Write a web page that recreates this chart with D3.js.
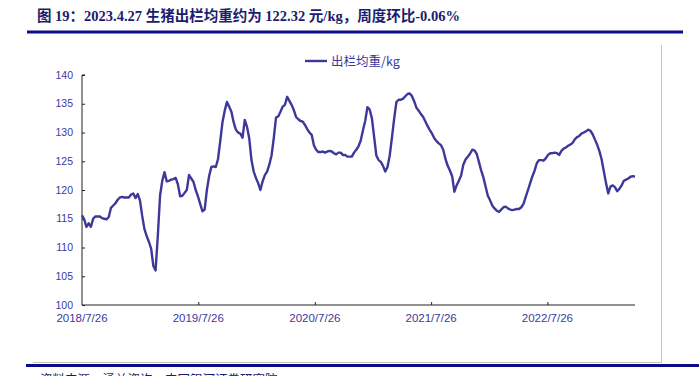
<!DOCTYPE html>
<html>
<head>
<meta charset="utf-8">
<script src="https://cdn.jsdelivr.net/npm/d3@7"></script>
<style>
  body { margin: 0; background: #fff; }
  svg { display: block; }
</style>
</head>
<body>
<div id="chart"></div>
<script>
// Data: weekly hog slaughter weight (kg)
const titleText = "图 19：2023.4.27 生猪出栏均重约为 122.32 元/kg，周度环比-0.06%";
const seriesName = "出栏均重/kg";
const sourceText = "资料来源：涌益咨询，中国银河证券研究院";

const dates = [
  // 2018
  "2018/7/26","2018/8/2","2018/8/9","2018/8/16","2018/8/23","2018/8/30","2018/9/6","2018/9/13","2018/9/20","2018/9/27",
  "2018/10/4","2018/10/11","2018/10/18","2018/10/25","2018/11/1","2018/11/8","2018/11/15","2018/11/22","2018/11/29",
  "2018/12/6","2018/12/13","2018/12/20","2018/12/27",
  // 2019
  "2019/1/3","2019/1/10","2019/1/17","2019/1/24","2019/1/31","2019/2/7","2019/2/14","2019/2/21","2019/2/28",
  "2019/3/7","2019/3/14","2019/3/21","2019/3/28","2019/4/4","2019/4/11","2019/4/18","2019/4/25",
  "2019/5/2","2019/5/9","2019/5/16","2019/5/23","2019/5/30","2019/6/6","2019/6/13","2019/6/20","2019/6/27",
  "2019/7/4","2019/7/11","2019/7/18","2019/7/25","2019/8/1","2019/8/8","2019/8/15","2019/8/22","2019/8/29",
  "2019/9/5","2019/9/12","2019/9/19","2019/9/26","2019/10/3","2019/10/10","2019/10/17","2019/10/24","2019/10/31",
  "2019/11/7","2019/11/14","2019/11/21","2019/11/28","2019/12/5","2019/12/12","2019/12/19","2019/12/26",
  // 2020
  "2020/1/2","2020/1/9","2020/1/16","2020/1/23","2020/1/30","2020/2/6","2020/2/13","2020/2/20","2020/2/27",
  "2020/3/5","2020/3/12","2020/3/19","2020/3/26","2020/4/2","2020/4/9","2020/4/16","2020/4/23","2020/4/30",
  "2020/5/7","2020/5/14","2020/5/21","2020/5/28","2020/6/4","2020/6/11","2020/6/18","2020/6/25",
  "2020/7/2","2020/7/9","2020/7/16","2020/7/23","2020/7/30","2020/8/6","2020/8/13","2020/8/20","2020/8/27",
  "2020/9/3","2020/9/10","2020/9/17","2020/9/24","2020/10/1","2020/10/8","2020/10/15","2020/10/22","2020/10/29",
  "2020/11/5","2020/11/12","2020/11/19","2020/11/26","2020/12/3","2020/12/10","2020/12/17","2020/12/24","2020/12/31",
  // 2021
  "2021/1/7","2021/1/14","2021/1/21","2021/1/28","2021/2/4","2021/2/11","2021/2/18","2021/2/25",
  "2021/3/4","2021/3/11","2021/3/18","2021/3/25","2021/4/1","2021/4/8","2021/4/15","2021/4/22","2021/4/29",
  "2021/5/6","2021/5/13","2021/5/20","2021/5/27","2021/6/3","2021/6/10","2021/6/17","2021/6/24",
  "2021/7/1","2021/7/8","2021/7/15","2021/7/22","2021/7/29","2021/8/5","2021/8/12","2021/8/19","2021/8/26",
  "2021/9/2","2021/9/9","2021/9/16","2021/9/23","2021/9/30","2021/10/7","2021/10/14","2021/10/21","2021/10/28",
  "2021/11/4","2021/11/11","2021/11/18","2021/11/25","2021/12/2","2021/12/9","2021/12/16","2021/12/23","2021/12/30",
  // 2022
  "2022/1/6","2022/1/13","2022/1/20","2022/1/27","2022/2/3","2022/2/10","2022/2/17","2022/2/24",
  "2022/3/3","2022/3/10","2022/3/17","2022/3/24","2022/3/31","2022/4/7","2022/4/14","2022/4/21","2022/4/28",
  "2022/5/5","2022/5/12","2022/5/19","2022/5/26","2022/6/2","2022/6/9","2022/6/16","2022/6/23","2022/6/30",
  "2022/7/7","2022/7/14","2022/7/21","2022/7/28","2022/8/4","2022/8/11","2022/8/18","2022/8/25",
  "2022/9/1","2022/9/8","2022/9/15","2022/9/22","2022/9/29","2022/10/6","2022/10/13","2022/10/20","2022/10/27",
  "2022/11/3","2022/11/10","2022/11/17","2022/11/24","2022/12/1","2022/12/8","2022/12/15","2022/12/22","2022/12/29",
  // 2023
  "2023/1/5","2023/1/12","2023/1/19","2023/1/26","2023/2/2","2023/2/9","2023/2/16","2023/2/23",
  "2023/3/2","2023/3/9","2023/3/16","2023/3/23","2023/3/30","2023/4/6","2023/4/13","2023/4/20","2023/4/27"
];

const weights = [
  // 2018
  115.6,114.9,113.6,114.2,113.6,115.0,115.4,115.4,115.4,115.1,115.0,114.9,115.3,116.9,117.3,117.7,118.3,118.7,118.8,
  118.7,118.7,118.7,119.2,
  // 2019
  119.4,118.6,119.3,118.2,115.5,113.2,112.0,111.0,109.8,106.8,106.0,112.0,119.0,121.6,123.1,121.5,121.6,
  121.8,121.9,122.1,121.0,118.9,119.0,119.5,120.0,122.6,122.0,121.4,120.0,118.9,117.6,116.3,116.6,120.0,122.4,
  124.0,124.1,124.0,125.4,128.5,131.8,133.8,135.3,134.5,133.6,131.8,130.5,130.0,129.8,129.1,132.2,131.0,
  // 2020
  129.0,125.2,123.2,122.1,121.2,120.0,121.5,122.6,123.2,124.4,126.0,129.0,132.6,132.8,133.6,134.5,134.8,136.2,
  135.5,134.8,133.9,132.7,132.3,132.0,131.9,131.3,130.6,130.0,129.6,127.8,127.0,126.6,126.6,126.7,126.5,126.7,
  126.8,126.7,126.4,126.2,126.5,126.5,126.1,126.1,125.8,125.8,125.8,126.5,127.0,127.6,128.6,130.4,132.0,
  // 2021
  134.4,134.0,132.5,129.3,126.0,125.2,124.9,124.2,123.2,124.0,126.0,129.1,132.4,135.3,135.7,135.7,135.9,136.3,
  136.7,136.8,136.3,135.4,134.3,133.8,133.2,132.7,131.9,131.1,130.4,129.8,129.0,128.5,128.1,127.8,127.0,125.4,
  124.2,123.4,122.4,119.7,120.8,121.6,122.5,124.4,125.3,125.8,126.3,127.0,126.9,126.3,124.9,123.4,
  // 2022
  122.2,120.6,119.0,118.2,117.3,116.8,116.4,116.2,116.6,117.0,117.1,116.8,116.6,116.5,116.6,116.7,116.7,117.0,
  117.6,118.8,120.0,121.2,122.4,123.4,124.7,125.2,125.2,125.1,125.5,126.1,126.4,126.4,126.5,126.4,126.1,126.8,
  127.2,127.4,127.7,127.9,128.2,128.8,129.2,129.4,129.8,130.0,130.2,130.5,130.3,129.7,128.8,127.9,
  // 2023
  126.8,125.4,123.3,121.2,119.4,120.6,120.8,120.5,119.8,120.2,120.8,121.6,121.8,122.0,122.3,122.4,122.32
];

const xTickLabels = ["2018/7/26","2019/7/26","2020/7/26","2021/7/26","2022/7/26"];
const yTicks = [100,105,110,115,120,125,130,135,140];

// Layout
const W = 699, H = 376;
const plot = { left: 82, right: 635, top: 75, bottom: 305 };
const lineColor = "#3d3899";
const labelColor = "#3a3a9e";
const navy = "#0c0c8a";

const parse = d3.timeParse("%Y/%m/%d");
const data = dates.map((d, i) => ({ date: parse(d), value: weights[i] }));

const svg = d3.select("#chart").append("svg")
  .attr("width", W)
  .attr("height", H);

// Title + rules
svg.append("text")
  .attr("x", 37).attr("y", 21)
  .attr("fill", "#1c1c6e")
  .style("font-family", "'Liberation Serif', 'Noto Sans CJK SC', serif")
  .style("font-weight", "bold")
  .style("font-size", "14.5px")
  .text(titleText);

svg.append("rect").attr("x", 27).attr("y", 30.5).attr("width", 656).attr("height", 3).attr("fill", navy);

// light frame (right + bottom)
svg.append("line").attr("x1", 661.5).attr("x2", 661.5).attr("y1", 45).attr("y2", 363)
  .attr("stroke", "#c4c4c4").attr("stroke-width", 1);
svg.append("line").attr("x1", 33).attr("x2", 661.5).attr("y1", 362.5).attr("y2", 362.5)
  .attr("stroke", "#c4c4c4").attr("stroke-width", 1);

svg.append("rect").attr("x", 26).attr("y", 364).attr("width", W - 26).attr("height", 3).attr("fill", navy);

// source line, cut by the bottom edge as in the original page
svg.append("text")
  .attr("x", 40).attr("y", 384)
  .attr("fill", "#1c1c6e")
  .style("font-family", "'Noto Sans CJK SC', sans-serif")
  .style("font-size", "12.5px")
  .text(sourceText);

// Scales
const x = d3.scaleTime()
  .domain([parse(dates[0]), parse(dates[dates.length - 1])])
  .range([plot.left, plot.right]);

const y = d3.scaleLinear()
  .domain([100, 140])
  .range([plot.bottom, plot.top]);

// Y axis
const yAxis = svg.append("g")
  .attr("transform", `translate(${plot.left},0)`)
  .call(d3.axisRight(y).tickValues(yTicks).tickSize(3).tickFormat(""));
yAxis.select(".domain").attr("d", `M3,${plot.top}H0V${plot.bottom}`);
yAxis.selectAll("line").attr("stroke", "#222");
yAxis.select(".domain").attr("stroke", "#222");

svg.append("g").selectAll("text")
  .data(yTicks)
  .enter().append("text")
  .attr("x", 73)
  .attr("y", d => y(d))
  .attr("dy", "0.35em")
  .attr("text-anchor", "end")
  .attr("fill", labelColor)
  .style("font-family", "'Liberation Sans', Arial, sans-serif")
  .style("font-size", "10.5px")
  .text(d => d);

// X axis
const tickDates = xTickLabels.map(parse);
const xAxis = svg.append("g")
  .attr("transform", `translate(0,${plot.bottom})`)
  .call(d3.axisTop(x).tickValues(tickDates.slice(1)).tickSize(3).tickFormat(""));
xAxis.select(".domain").attr("d", `M${plot.left},0H${plot.right}`).attr("stroke", "#222");
xAxis.selectAll("line").attr("stroke", "#222");

svg.append("g").selectAll("text")
  .data(xTickLabels)
  .enter().append("text")
  .attr("x", d => x(parse(d)))
  .attr("y", 322)
  .attr("text-anchor", "middle")
  .attr("fill", labelColor)
  .style("font-family", "'Liberation Sans', Arial, sans-serif")
  .style("font-size", "11.5px")
  .text(d => d);

// Line
const line = d3.line()
  .x(d => x(d.date))
  .y(d => y(d.value));

svg.append("path")
  .datum(data)
  .attr("fill", "none")
  .attr("stroke", lineColor)
  .attr("stroke-width", 2.4)
  .attr("stroke-linejoin", "round")
  .attr("d", line);

// Legend
svg.append("line")
  .attr("x1", 305).attr("x2", 327).attr("y1", 61).attr("y2", 61)
  .attr("stroke", lineColor).attr("stroke-width", 2.4);
svg.append("text")
  .attr("x", 331).attr("y", 65.5)
  .attr("fill", labelColor)
  .style("font-family", "'Noto Sans CJK SC', sans-serif")
  .style("font-size", "12.5px")
  .text(seriesName);
</script>
</body>
</html>
